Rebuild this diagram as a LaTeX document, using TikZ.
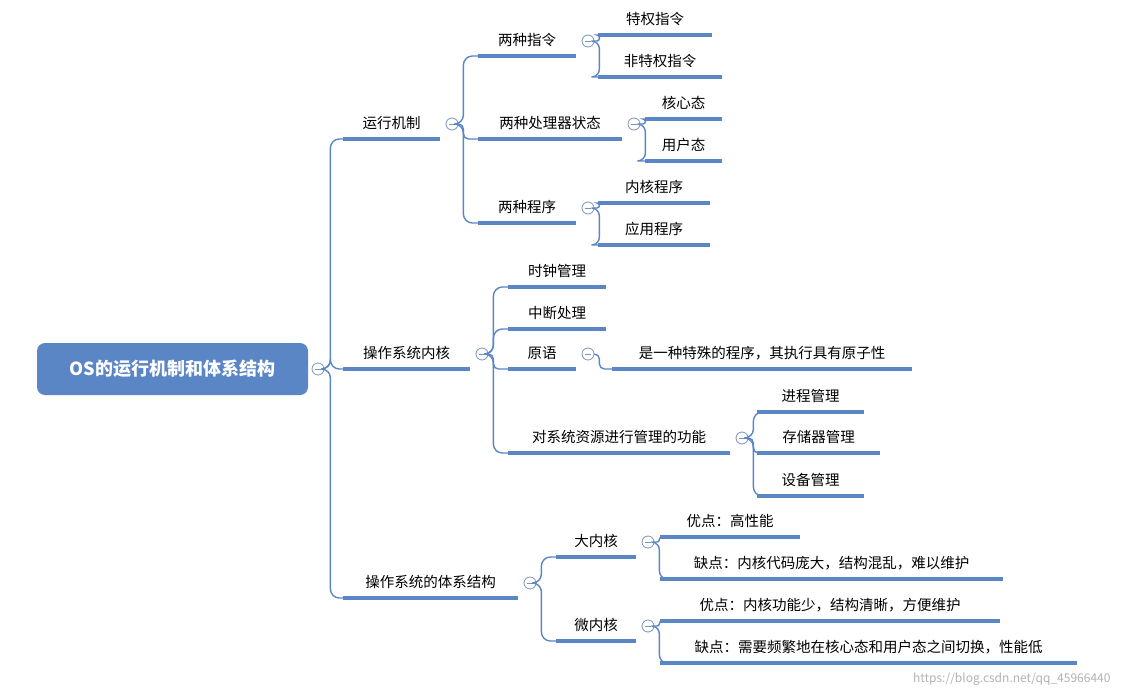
\documentclass[tikz,border=0pt]{standalone}
\usepackage{fontspec}
\setmainfont{Noto Sans CJK SC}
\usetikzlibrary{calc}
\definecolor{mapblue}{HTML}{5B86C6}
\definecolor{foldgray}{HTML}{7C93B8}
\tikzset{
    ul/.style={mapblue, line width=3.2pt},
    conn/.style={mapblue, line width=1.4pt, rounded corners=#1},
    conn/.default=9pt,
    lbl/.style={inner sep=1pt, font=\fontsize{14.5}{16}\selectfont},
    fold/.style={circle, draw=foldgray, fill=white, line width=0.8pt, minimum size=12pt, inner sep=0pt,
        path picture={\draw[foldgray, line width=0.8pt] ($(path picture bounding box.center)+(-3pt,0)$) -- ++(6pt,0);}}
}
% item: name, x start, x end, y of underline, text
\newcommand\mapitem[5]{%
    \coordinate (#1-w) at (#2,#4);
    \coordinate (#1-e) at (#3,#4);
    \draw[ul] (#1-w) -- (#1-e);
    \node[lbl] (#1) at ($(#1-w)!0.5!(#1-e)+(0,-16)$) {#5};
}
\newcommand\mapfold[1]{\node[fold] (#1-c) at ($(#1-e)+(12,-15)$) {};}
\begin{document}
\begin{tikzpicture}[x=1pt, y=-1pt]
    \useasboundingbox (0,0) rectangle (1122,696);
    % root
    \node[fill=mapblue, rounded corners=8pt, minimum width=271pt, minimum height=52pt, text=white,
        font=\fontsize{18}{20}\selectfont\bfseries] (root) at (172.5,369) {OS的运行机制和体系结构};
    \node[fold] (root-c) at (318,369) {};

    % level 1
    \mapitem{run}{343}{440}{139}{运行机制}
    \mapitem{kern}{343}{470}{369}{操作系统内核}
    \mapitem{arch}{343}{518}{598}{操作系统的体系结构}
    \mapfold{run} \mapfold{kern} \mapfold{arch}
    \foreach \c in {run,kern,arch}
        \draw[conn] (root-c.east) -- ++(6,0) |- (\c-w);

    % run mechanism
    \mapitem{ins}{478}{576}{56}{两种指令}
    \mapitem{cpu}{478}{622}{139}{两种处理器状态}
    \mapitem{prog}{478}{576}{223}{两种程序}
    \mapfold{ins} \mapfold{cpu} \mapfold{prog}
    \foreach \c in {ins,prog}
        \draw[conn] (run-c.east) -- ++(5,0) |- (\c-w);
    \draw[conn=5pt] (run-c.east) -- ++(5,0) |- (cpu-w);
    \mapitem{priv}{598}{712}{35}{特权指令}
    \mapitem{npriv}{598}{722}{77}{非特权指令}
    \mapitem{core}{645}{722}{119}{核心态}
    \mapitem{user}{645}{722}{161}{用户态}
    \mapitem{kprog}{598}{710}{203}{内核程序}
    \mapitem{aprog}{598}{710}{245}{应用程序}
    \foreach \p/\c/\r in {ins/priv/2.5pt, ins/npriv/8pt, cpu/core/2.5pt, cpu/user/8pt, prog/kprog/2.5pt, prog/aprog/8pt}
        \draw[conn=\r] (\p-c.east) -- ++(5,0) |- (\c-w);

    % kernel
    \mapitem{clock}{508}{606}{287}{时钟管理}
    \mapitem{intr}{508}{606}{329}{中断处理}
    \mapitem{prim}{508}{576}{369}{原语}
    \mapitem{res}{508}{730}{453}{对系统资源进行管理的功能}
    \mapfold{prim} \mapfold{res}
    \foreach \c in {clock,intr,res}
        \draw[conn] (kern-c.east) -- ++(5,0) |- (\c-w);
    \draw[conn=5pt] (kern-c.east) -- ++(5,0) |- (prim-w);
    \mapitem{atom}{612}{912}{369}{是一种特殊的程序，其执行具有原子性}
    \draw[conn=5pt] (prim-c.east) -- ++(5,0) |- (atom-w);
    \mapitem{proc}{757}{864}{412}{进程管理}
    \mapitem{mem}{757}{880}{453}{存储器管理}
    \mapitem{dev}{757}{864}{496}{设备管理}
    \foreach \c/\r in {proc/9pt,mem/5pt,dev/9pt}
        \draw[conn=\r] (res-c.east) -- ++(5,0) |- (\c-w);

    % architecture
    \mapitem{big}{556}{636}{557}{大内核}
    \mapitem{micro}{556}{636}{641}{微内核}
    \mapfold{big} \mapfold{micro}
    \foreach \c in {big,micro}
        \draw[conn] (arch-c.east) -- ++(5,0) |- (\c-w);
    \mapitem{bigpro}{660}{800}{537}{优点：高性能}
    \mapitem{bigcon}{660}{1003}{579}{缺点：内核代码庞大，结构混乱，难以维护}
    \mapitem{micpro}{660}{1000}{621}{优点：内核功能少，结构清晰，方便维护}
    \mapitem{miccon}{660}{1077}{663}{缺点：需要频繁地在核心态和用户态之间切换，性能低}
    \foreach \p/\c/\r in {big/bigpro/2.5pt, big/bigcon/8pt, micro/micpro/2.5pt, micro/miccon/8pt}
        \draw[conn=\r] (\p-c.east) -- ++(5,0) |- (\c-w);

    \node[text=black!30, font=\fontsize{12}{14}\selectfont, anchor=east] (mark) at (1114,679) {https://blog.csdn.net/qq\_45966440};
\end{tikzpicture}
\end{document}
